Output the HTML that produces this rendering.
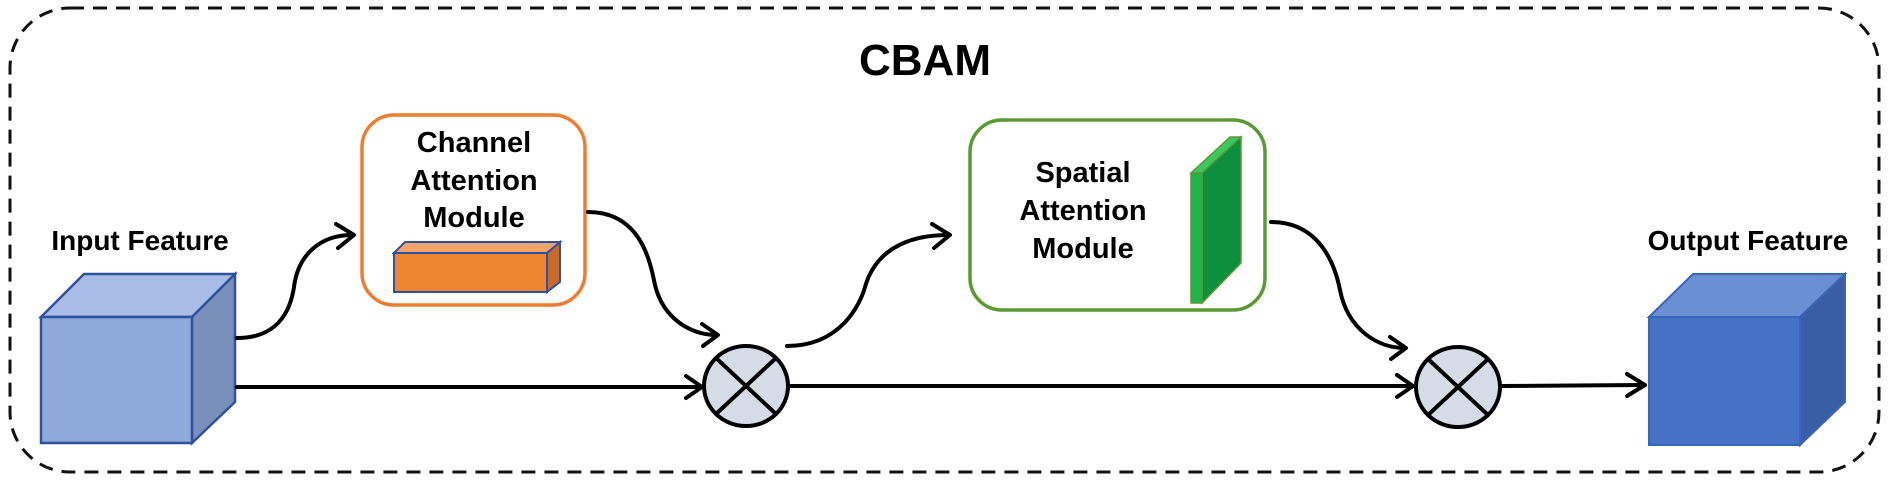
<!DOCTYPE html>
<html><head><meta charset="utf-8"><style>
html,body{margin:0;padding:0;background:#fff;}
svg{display:block;}
text{font-family:"Liberation Sans",Arial,sans-serif;font-weight:bold;fill:#000;}
</style></head><body>
<svg width="1890" height="481" viewBox="0 0 1890 481" xmlns="http://www.w3.org/2000/svg">
<defs>
<marker id="ah" markerWidth="12" markerHeight="12" refX="10" refY="6" orient="auto" markerUnits="userSpaceOnUse" viewBox="0 0 12 12">
</marker>
</defs>
<!-- outer dashed -->
<rect x="10" y="8" width="1869" height="464" rx="60" ry="60" fill="none" stroke="#111" stroke-width="3" stroke-dasharray="14 9"/>
<text x="925" y="75" font-size="44" text-anchor="middle">CBAM</text>

<!-- Input feature -->
<text x="140" y="250" font-size="28" text-anchor="middle">Input Feature</text>
<polygon points="41,317 84,274 235,274 192,317" fill="#a9bde6" stroke="#2f52a0" stroke-width="2.5"/>
<polygon points="192,317 235,274 235,402 192,443" fill="#7a8fba" stroke="#2f52a0" stroke-width="2.5"/>
<rect x="41" y="317" width="151" height="126" fill="#8eaadb" stroke="#2f52a0" stroke-width="2.5"/>

<!-- Output feature -->
<text x="1748" y="250" font-size="28" text-anchor="middle">Output Feature</text>
<polygon points="1649,317 1693,274 1845,274 1800,317" fill="#6a8fd4" stroke="#3a64b8" stroke-width="2"/>
<polygon points="1800,317 1845,274 1845,402 1800,445" fill="#3a5ea6" stroke="#3a64b8" stroke-width="2"/>
<rect x="1649" y="317" width="151" height="128" fill="#4472c4" stroke="#3a64b8" stroke-width="2"/>

<!-- Channel box -->
<rect x="362" y="115" width="223" height="190" rx="32" fill="#fff" stroke="#ed7d31" stroke-width="3.5"/>
<text x="474" y="152" font-size="29" text-anchor="middle">Channel</text>
<text x="474" y="190" font-size="29" text-anchor="middle">Attention</text>
<text x="474" y="227" font-size="29" text-anchor="middle">Module</text>
<polygon points="394,253 405,242 560,242 547,253" fill="#f4a46a" stroke="#2f52a0" stroke-width="2"/>
<polygon points="547,253 560,242 560,282 547,292" fill="#c96a2a" stroke="#2f52a0" stroke-width="2"/>
<rect x="394" y="253" width="153" height="39" fill="#ed8531" stroke="#2f52a0" stroke-width="2"/>

<!-- Spatial box -->
<rect x="970" y="120" width="295" height="190" rx="32" fill="#fff" stroke="#5a9a32" stroke-width="3.5"/>
<text x="1083" y="182" font-size="29" text-anchor="middle">Spatial</text>
<text x="1083" y="220" font-size="29" text-anchor="middle">Attention</text>
<text x="1083" y="258" font-size="29" text-anchor="middle">Module</text>
<polygon points="1191,173 1230,137 1241,137 1202,173" fill="#3cc860" stroke="#5a9a32" stroke-width="1.5"/>
<polygon points="1202,173 1241,137 1241,263 1202,303" fill="#0e8f3e" stroke="#5a9a32" stroke-width="1.5"/>
<rect x="1191" y="173" width="11" height="130" fill="#1fb34a" stroke="#5a9a32" stroke-width="1.5"/>

<!-- connectors -->
<g fill="none" stroke="#000" stroke-width="4" stroke-linecap="round" stroke-linejoin="round">
<path d="M237,338 C285,338 292,300 294,287 C298,255 320,235 352,235"/>
<polyline points="336,224 354,235 338,248"/>
<path d="M237,387 L700,387"/>
<polyline points="686,376 702,387 686,398"/>
<path d="M588,212 C640,212 650,260 655,285 C663,318 690,335 717,335"/>
<polyline points="702,324 718,335 703,346"/>
<path d="M789,386 L1412,386"/>
<polyline points="1397,375 1413,386 1397,397"/>
<path d="M787,346 C840,346 860,305 865,287 C875,252 905,235 948,235"/>
<polyline points="932,224 950,235 934,248"/>
<path d="M1271,222 C1320,222 1335,265 1340,290 C1348,330 1378,348 1405,348"/>
<polyline points="1390,337 1406,348 1391,359"/>
<path d="M1501,386 L1643,385"/>
<polyline points="1627,374 1645,385 1627,396"/>
</g>

<!-- multiply circles -->
<g stroke="#000" stroke-width="4">
<ellipse cx="746" cy="386" rx="42" ry="40" fill="#d6dce5"/>
<line x1="716" y1="358" x2="776" y2="414"/>
<line x1="776" y1="358" x2="716" y2="414"/>
<ellipse cx="1458" cy="387" rx="42" ry="40" fill="#d6dce5"/>
<line x1="1428" y1="359" x2="1488" y2="415"/>
<line x1="1488" y1="359" x2="1428" y2="415"/>
</g>
</svg>
</body></html>
